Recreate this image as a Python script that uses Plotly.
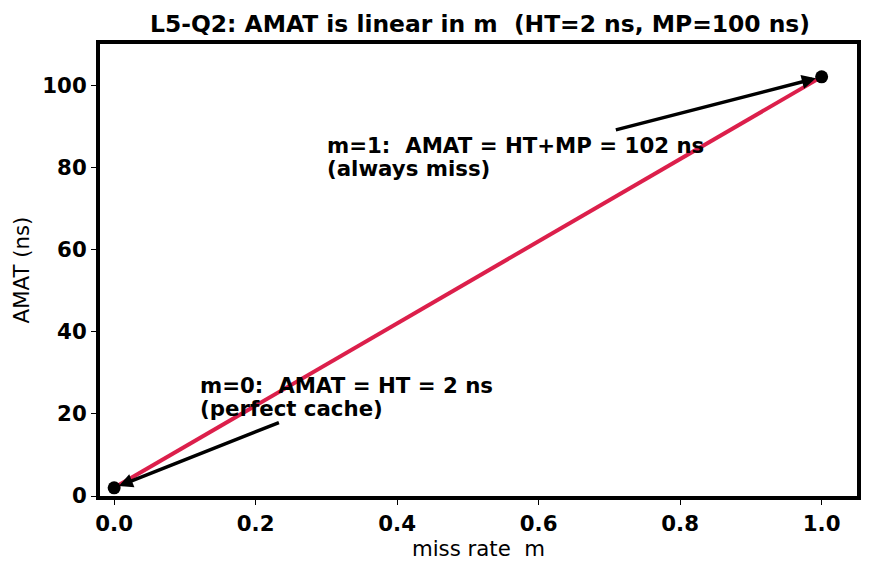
import plotly.graph_objects as go

m_vals = [0.0, 1.0]
amat_vals = [2, 102]
x_ticks = [0.0, 0.2, 0.4, 0.6, 0.8, 1.0]
x_tick_labels = ["0.0", "0.2", "0.4", "0.6", "0.8", "1.0"]
y_ticks = [0, 20, 40, 60, 80, 100]

FONT = "DejaVu Sans"
BOLD = dict(family=FONT, size=21.3, color="black", weight="bold")

fig = go.Figure()
fig.add_trace(go.Scatter(x=m_vals, y=amat_vals, mode="lines",
                         line=dict(color="#DC1F4B", width=4), showlegend=False))
fig.add_trace(go.Scatter(x=m_vals, y=amat_vals, mode="markers",
                         marker=dict(color="black", size=13), showlegend=False))

# arrows
fig.add_annotation(x=m_vals[0], y=amat_vals[0], ax=0.235, ay=18, axref="x", ayref="y",
                   xref="x", yref="y", text="", showarrow=True, arrowhead=2,
                   arrowsize=0.8, arrowwidth=3.5, arrowcolor="black", standoff=5)
fig.add_annotation(x=m_vals[1], y=amat_vals[1], ax=0.707, ay=89, axref="x", ayref="y",
                   xref="x", yref="y", text="", showarrow=True, arrowhead=2,
                   arrowsize=0.8, arrowwidth=3.5, arrowcolor="black", standoff=6)

# texts (one annotation per line to match line spacing)
text_lines = [
    (0.12, 27.0, "m=0:\u00a0 AMAT = HT = 2 ns"),
    (0.12, 21.4, "(perfect cache)"),
    (0.30, 85.2, "m=1:\u00a0 AMAT = HT+MP = 102 ns"),
    (0.30, 79.6, "(always miss)"),
]
for tx, ty, tt in text_lines:
    fig.add_annotation(x=tx, y=ty, xref="x", yref="y", xanchor="left", yanchor="middle",
                       text=tt, showarrow=False, align="left", borderpad=0, font=BOLD)

fig.update_layout(
    width=873, height=571,
    margin=dict(l=100, r=13, t=44, b=75),
    plot_bgcolor="white", paper_bgcolor="white",
    font=dict(family=FONT, color="black"),
    title=dict(text="L5-Q2: AMAT is linear in m\u00a0 (HT=2 ns, MP=100 ns)",
               x=(100 + 860) / 2 / 873, xanchor="center", y=1 - 24 / 571, yanchor="middle",
               font=dict(family=FONT, size=23.4, color="black", weight="bold")),
)
fig.update_xaxes(range=[-0.02, 1.05], tickvals=x_ticks, ticktext=x_tick_labels,
                 showgrid=False, zeroline=False, showline=True, linecolor="black",
                 linewidth=4, mirror=True, ticks="outside", ticklen=5, tickwidth=1,
                 tickcolor="black", tickfont=BOLD,
                 title=dict(text="miss rate\u00a0 m", font=dict(family=FONT, size=21.3, color="black"),
                            standoff=5))
fig.update_yaxes(range=[0, 110], tickvals=y_ticks,
                 showgrid=False, zeroline=False, showline=True, linecolor="black",
                 linewidth=4, mirror=True, ticks="outside", ticklen=5, tickwidth=1,
                 tickcolor="black", tickfont=BOLD,
                 title=dict(text="AMAT (ns)", font=dict(family=FONT, size=21.3, color="black"),
                            standoff=8))

fig.write_html("out.html")
